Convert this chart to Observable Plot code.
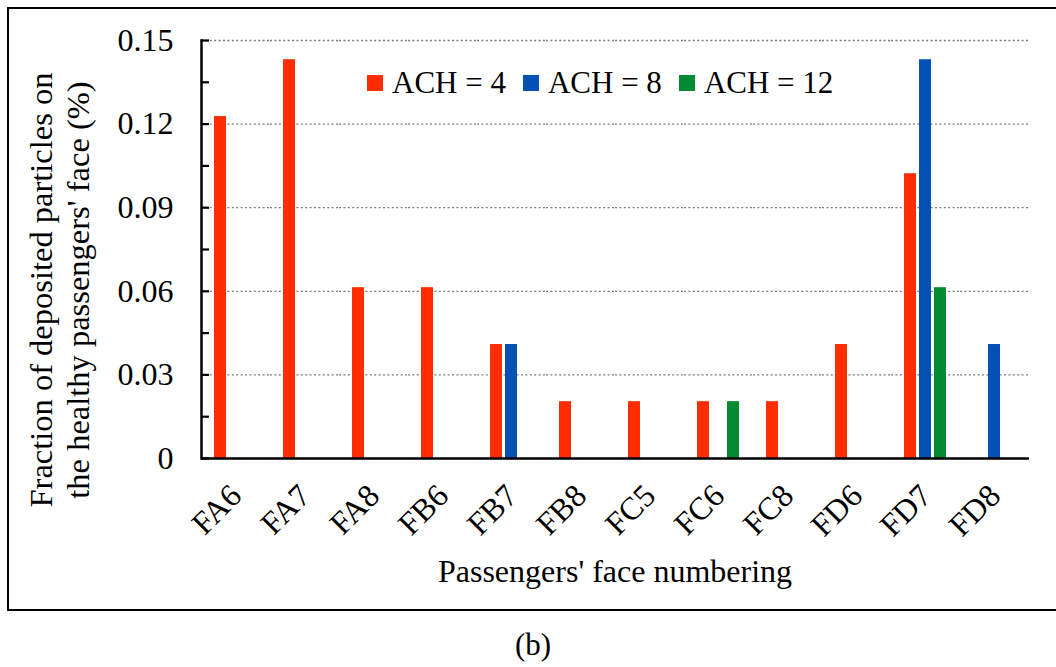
<!DOCTYPE html>
<html>
<head>
<meta charset="utf-8">
<script src="https://cdn.jsdelivr.net/npm/d3@7"></script>
<script src="https://cdn.jsdelivr.net/npm/@observablehq/plot@0.6"></script>
<style>
  body { margin: 0; background: #fff; }
  #figure {
    position: relative; width: 1056px; height: 667px; overflow: hidden;
    font-family: "Liberation Serif", "Times New Roman", serif; color: #000;
  }
  #chart { position: absolute; left: 0; top: 0; }
  .border {
    position: absolute; left: 7px; top: 7px; width: 1070px; height: 604px;
    border: 2.5px solid #000; box-sizing: border-box; pointer-events: none;
  }
  .ylabel {
    position: absolute; left: 60px; top: 290px; white-space: nowrap;
    font-size: 32.5px; line-height: 37px; text-align: center;
    transform: translate(-50%, -50%) rotate(-90deg);
  }
  .xlabel {
    position: absolute; left: 615px; top: 555px; transform: translateX(-50%);
    font-size: 32px; line-height: 32px; white-space: nowrap;
  }
  .caption {
    position: absolute; left: 533px; top: 629px; transform: translateX(-50%);
    font-size: 31px; line-height: 31px;
  }
  .legend {
    position: absolute; left: 367px; top: 67px; display: flex;
    font-size: 31px; line-height: 31px; white-space: nowrap;
  }
  .legend .item { display: flex; align-items: center; gap: 9px; margin-right: 17px; }
  .legend .swatch { width: 16px; height: 16px; display: inline-block; }
</style>
</head>
<body>
<div id="figure">
  <div id="chart"></div>
  <div class="ylabel">Fraction of deposited particles on<br>the healthy passengers' face (%)</div>
  <div class="xlabel">Passengers' face numbering</div>
  <div class="legend" id="legend"></div>
  <div class="border"></div>
  <div class="caption">(b)</div>
</div>
<script>
// Passenger face positions along the x axis
const faces = ["FA6", "FA7", "FA8", "FB6", "FB7", "FB8", "FC5", "FC6", "FC8", "FD6", "FD7", "FD8"];

// Air changes per hour cases
const achLevels = ["ACH = 4", "ACH = 8", "ACH = 12"];
const achColors = ["#ff2d00", "#0451b5", "#038a32"];

// Fraction of deposited particles (%) per face, one array per ACH case
const ach4  = [0.1227, 0.1431, 0.0613, 0.0613, 0.0409, 0.0204, 0.0204, 0.0204, 0.0204, 0.0409, 0.1022, 0];
const ach8  = [0, 0, 0, 0, 0.0409, 0, 0, 0, 0, 0, 0.1431, 0.0409];
const ach12 = [0, 0, 0, 0, 0, 0, 0, 0.0204, 0, 0, 0.0613, 0];

// Axis ticks
const yTicks = [0, 0.03, 0.06, 0.09, 0.12, 0.15];
const yMinorTicks = d3.range(11).map(i => i * 0.015);

const series = [ach4, ach8, ach12];
const rows = faces.flatMap((face, i) =>
  series.map((values, j) => ({face, ach: achLevels[j], value: values[i]}))
).filter(d => d.value > 0);

const font = '"Liberation Serif", "Times New Roman", serif';

const chart = Plot.plot({
  width: 1056,
  height: 610,
  marginLeft: 200,
  marginRight: 26,
  marginTop: 40,
  marginBottom: 152,
  style: {fontFamily: font, fontSize: "31px", color: "#000", background: "transparent", overflow: "visible"},
  fx: {domain: faces, padding: 0, label: null},
  x: {domain: achLevels, paddingInner: 0.1875, paddingOuter: 0.755, axis: null},
  y: {domain: [0, 0.15], label: null},
  color: {domain: achLevels, range: achColors},
  marks: [
    Plot.gridY(yTicks.slice(1), {stroke: "#7a7a7a", strokeOpacity: 1, strokeDasharray: "2,2.4", strokeWidth: 1.3}),
    Plot.barY(rows, {fx: "face", x: "ach", y: "value", fill: "ach"}),
    Plot.axisY(yTicks, {tickSize: 0, tickPadding: 28, fontSize: 32, label: null,
      tickFormat: d => d === 0 ? "0" : d.toFixed(2)}),
    Plot.axisY(yMinorTicks, {tickSize: -8, strokeWidth: 2.2, fill: "none", label: null}),
    Plot.axisFx({anchor: "bottom", tickRotate: -45, tickSize: 0, tickPadding: 32, fontSize: 32, label: null}),
    Plot.ruleY([0], {strokeWidth: 2.5}),
    Plot.frame({anchor: "left", facetAnchor: "left", strokeWidth: 2.5})
  ]
});
document.getElementById("chart").append(chart);

// Legend swatches
const legend = d3.select("#legend");
achLevels.forEach((label, i) => {
  const item = legend.append("div").attr("class", "item");
  item.append("span").attr("class", "swatch").style("background", achColors[i]);
  item.append("span").text(label);
});
</script>
</body>
</html>
